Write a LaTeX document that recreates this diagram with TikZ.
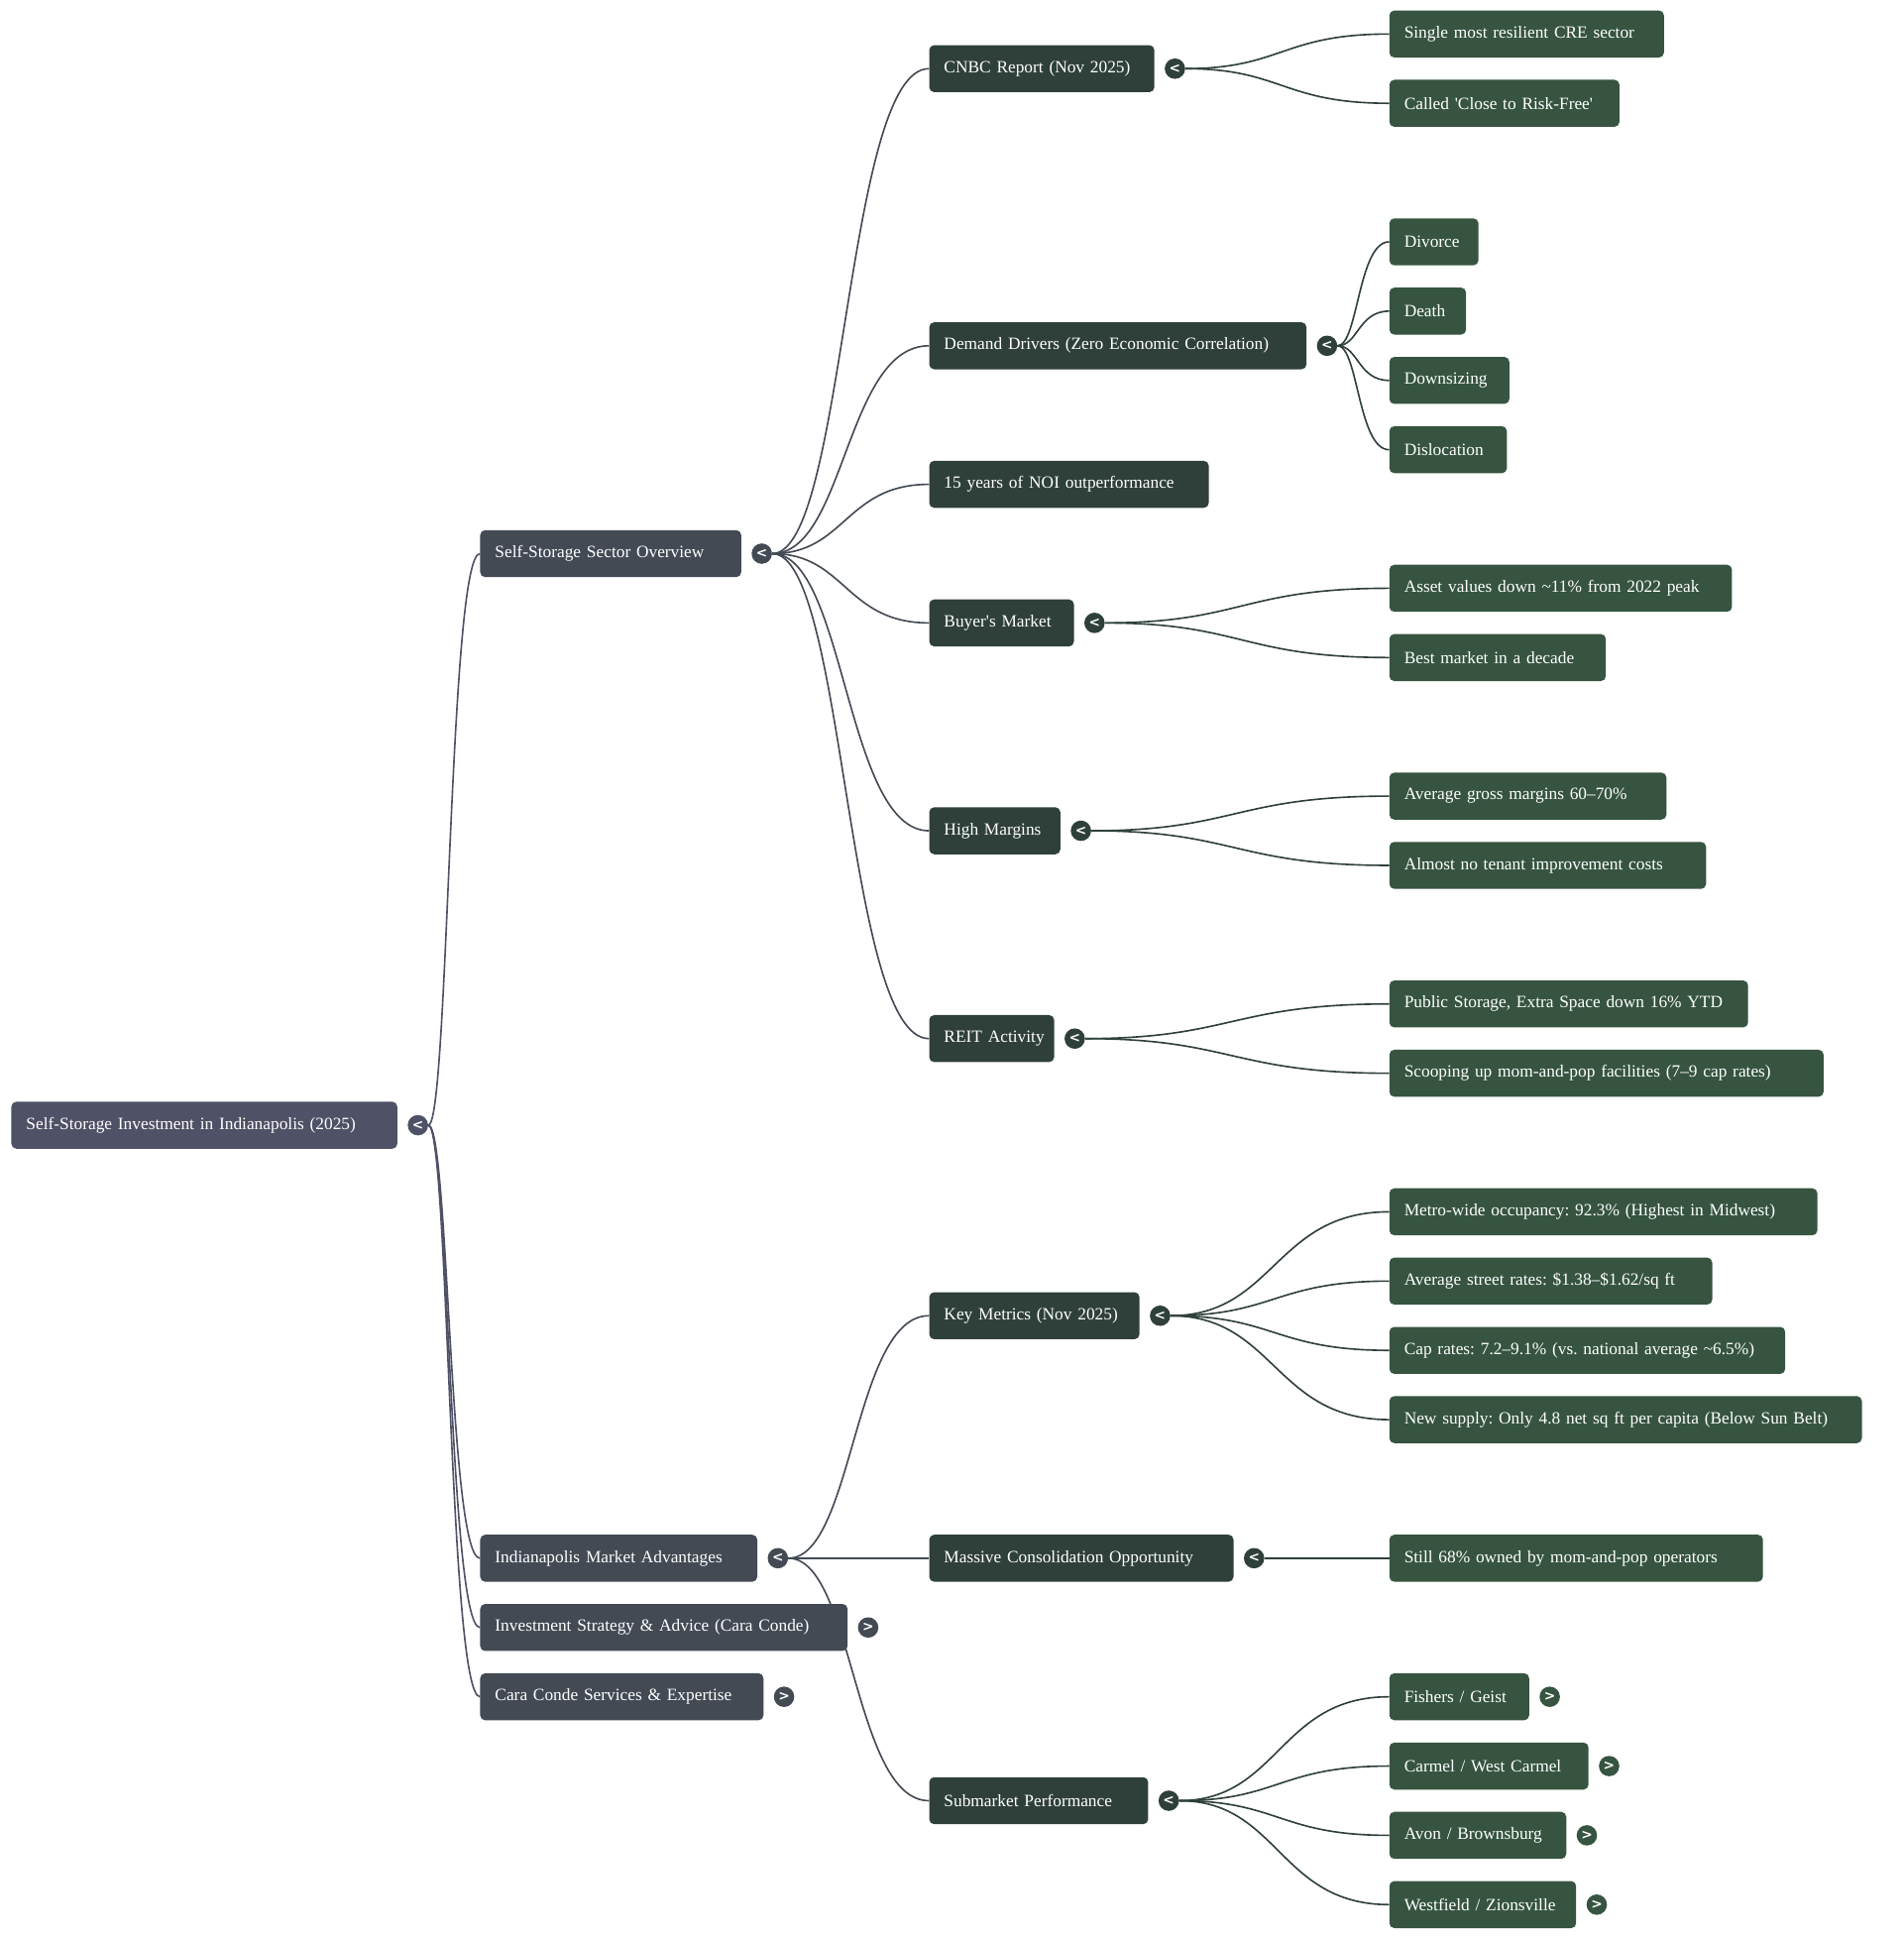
\documentclass[tikz,border=0pt]{standalone}
\usepackage{fontspec}
\setmainfont{Liberation Serif}
\newfontfamily\chevfont{DejaVu Sans}
\usetikzlibrary{calc,positioning,backgrounds}

\definecolor{rootcol}{HTML}{4F5166}
\definecolor{topcol}{HTML}{434A54}
\definecolor{subcol}{HTML}{2F403B}
\definecolor{leafcol}{HTML}{365440}

\tikzset{
  box/.style={rounded corners=4pt, minimum height=38pt, inner xsep=12pt, inner ysep=0pt,
    text=white, align=left, anchor=west, font=\fontsize{13.9}{16}\selectfont\frenchspacing},
  bw/.code={\pgfmathsetmacro\bwtext{#1-24}\tikzset{text width/.expanded=\bwtext pt}},
  rootbox/.style={box, fill=rootcol},
  topbox/.style={box, fill=topcol},
  subbox/.style={box, fill=subcol},
  leafbox/.style={box, fill=leafcol},
  tog/.style={circle, fill=#1, minimum size=16.5pt, inner sep=0pt, text=white,
    font=\chevfont\bfseries\fontsize{11}{11}\selectfont},
  link/.style={draw=#1, line width=1.3pt,
    to path={let \p1=(\tikztostart), \p2=(\tikztotarget) in
      .. controls ({(\x1+\x2)/2},\y1) and ({(\x1+\x2)/2},\y2) .. (\p2)}}
}

\begin{document}
\begin{tikzpicture}[x=1pt, y=-1pt]
  \useasboundingbox (0,0) rectangle (1538.5,1567.3);

  % root
  \node[rootbox, bw=312] (root) at (9,909.5) {\mbox{Self-Storage Investment in Indianapolis (2025)}};
  \node[tog=rootcol, right=8pt of root] (root-t) {\textless};

  % first level
  \foreach \nm/\yy/\ww/\sg/\tx in {
    sector/447.5/211/\textless/{Self-Storage Sector Overview},
    indy/1259.5/224/\textless/{Indianapolis Market Advantages},
    strategy/1315.5/297/\textgreater/{Investment Strategy \& Advice (Cara Conde)},
    services/1371.5/229/\textgreater/{Cara Conde Services \& Expertise}}
  {
    \node[topbox, bw=\ww] (\nm) at (388,\yy) {\mbox{\tx}};
    \node[tog=topcol, right=8pt of \nm] (\nm-t) {\sg};
    \begin{pgfonlayer}{background}
      \draw[link=rootcol] (root-t) to (\nm.west);
    \end{pgfonlayer}
  }

  % second level
  \foreach \pa/\nm/\yy/\ww/\tx in {
    sector/cnbc/55.5/182/{CNBC Report (Nov 2025)},
    sector/demand/279.5/305/{Demand Drivers (Zero Economic Correlation)},
    sector/buyer/503.5/117/{Buyer\textquotesingle s Market},
    sector/margin/671.5/106/{High Margins},
    sector/reit/839.5/101/{REIT Activity},
    indy/metrics/1063.5/170/{Key Metrics (Nov 2025)},
    indy/consol/1259.5/246/{Massive Consolidation Opportunity},
    indy/submkt/1455.5/177/{Submarket Performance}}
  {
    \node[subbox, bw=\ww] (\nm) at (751,\yy) {\mbox{\tx}};
    \node[tog=subcol, right=8pt of \nm] (\nm-t) {\textless};
    \begin{pgfonlayer}{background}
      \draw[link=topcol] (\pa-t) to (\nm.west);
    \end{pgfonlayer}
  }
  \node[subbox, bw=226] (noi) at (751,391.5) {\mbox{15 years of NOI outperformance}};
  \begin{pgfonlayer}{background}
    \draw[link=topcol] (sector-t) to (noi.west);
  \end{pgfonlayer}

  % third level
  \foreach \pa/\nm/\yy/\ww/\tx in {
    cnbc/resil/27.5/222/{Single most resilient CRE sector},
    cnbc/riskfree/83.5/186/{Called \textquotesingle Close to Risk-Free\textquotesingle},
    demand/divorce/195.5/72/{Divorce},
    demand/death/251.5/62/{Death},
    demand/downsize/307.5/97/{Downsizing},
    demand/dislocate/363.5/95/{Dislocation},
    buyer/values/475.5/277/{Asset values down \textasciitilde 11\% from 2022 peak},
    buyer/decade/531.5/175/{Best market in a decade},
    margin/gross/643.5/224/{Average gross margins 60--70\%},
    margin/tenant/699.5/256/{Almost no tenant improvement costs},
    reit/public/811.5/290/{Public Storage, Extra Space down 16\% YTD},
    reit/scoop/867.5/351/{Scooping up mom-and-pop facilities (7--9 cap rates)},
    metrics/occup/979.5/346/{Metro-wide occupancy: 92.3\% (Highest in Midwest)},
    metrics/rates/1035.5/261/{Average street rates: \$1.38--\$1.62/sq ft},
    metrics/caprate/1091.5/320/{Cap rates: 7.2--9.1\% (vs. national average \textasciitilde 6.5\%)},
    metrics/supply/1147.5/382/{New supply: Only 4.8 net sq ft per capita (Below Sun Belt)},
    consol/owned/1259.5/302/{Still 68\% owned by mom-and-pop operators}}
  {
    \node[leafbox, bw=\ww] (\nm) at (1123,\yy) {\mbox{\tx}};
    \begin{pgfonlayer}{background}
      \draw[link=subcol] (\pa-t) to (\nm.west);
    \end{pgfonlayer}
  }

  % submarkets (collapsed)
  \foreach \nm/\yy/\ww/\tx in {
    fishers/1371.5/113/{Fishers / Geist},
    carmel/1427.5/161/{Carmel / West Carmel},
    avon/1483.5/143/{Avon / Brownsburg},
    westfield/1539.5/151/{Westfield / Zionsville}}
  {
    \node[leafbox, bw=\ww] (\nm) at (1123,\yy) {\mbox{\tx}};
    \node[tog=leafcol, right=8pt of \nm] (\nm-t) {\textgreater};
    \begin{pgfonlayer}{background}
      \draw[link=subcol] (submkt-t) to (\nm.west);
    \end{pgfonlayer}
  }
\end{tikzpicture}
\end{document}
